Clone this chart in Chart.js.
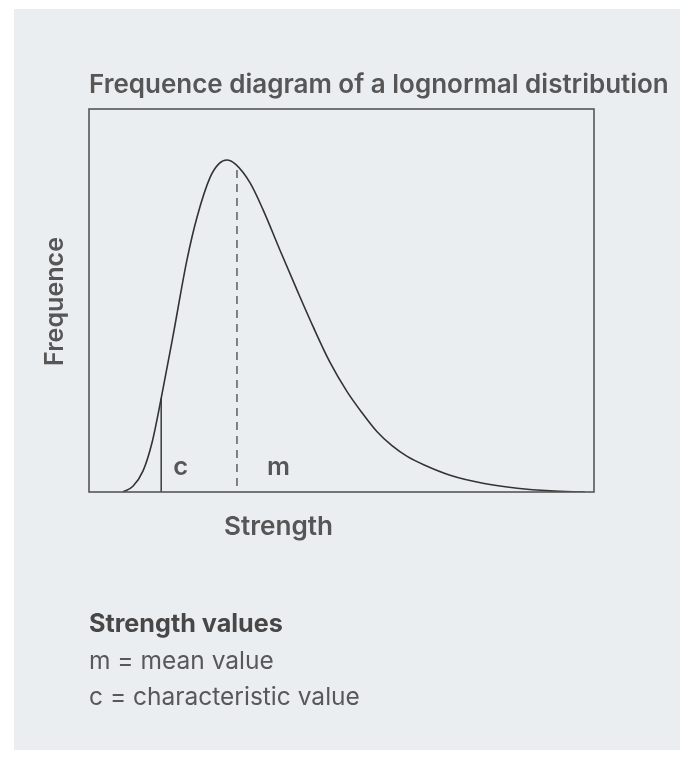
<!DOCTYPE html>
<html><head><meta charset="utf-8">
<script src="https://cdn.jsdelivr.net/npm/chart.js@4.4.1/dist/chart.umd.min.js"></script>
<style>
html,body{margin:0;padding:0;background:#fff;overflow:hidden;}
#panel{position:absolute;left:14px;top:9px;width:666px;height:741px;background:#ebeef1;}
#wrap{position:absolute;left:0;top:0;width:680px;height:759px;}
</style></head><body>
<div id="panel"></div>
<div id="wrap"><canvas id="c" width="680" height="759"></canvas></div>
<script>
const titleText = "Frequence diagram of a lognormal distribution";
const xAxisLabel = "Strength";
const yAxisLabel = "Frequence";
const notesHeading = "Strength values";
const notesLines = ["m = mean value", "c = characteristic value"];
const markerLabels = ["c", "m"];

// lognormal-shaped frequency curve (strength 0-100, frequence 0-100)
const curveX = [6.7, 8.7, 10.7, 12.5, 14.3, 16.6, 19.4, 21.4, 24.0, 25.8, 27.3, 29.0, 31.9, 34.5, 37.8, 41.2, 44.4, 47.7, 51.1, 54.0, 57.0, 60.0, 63.0, 66.5, 71.5, 78.0, 84.8, 91.3, 98.2];
const curveY = [0, 1.5, 5.5, 13.0, 24.5, 40.5, 60.6, 71.8, 82.2, 85.8, 86.7, 85.6, 80.7, 73.6, 63.2, 52.7, 43.1, 33.9, 26.2, 20.8, 15.8, 12.1, 9.3, 7.0, 4.4, 2.3, 1.0, 0.3, 0];
// characteristic value c and mean value m
const charX = [14.3, 14.3];
const charY = [0, 24.5];
const meanX = [29.3, 29.3];
const meanY = [84.1, 0];

const FAMILY = 'Inter, "Open Sans", sans-serif';
const mctx = document.createElement('canvas').getContext('2d');
function fitSize(text, weight, target) {
  mctx.font = weight + ' 100px ' + FAMILY;
  return 100 * target / mctx.measureText(text).width;
}
function pts(xs, ys) { return xs.map((x, i) => ({x: x, y: ys[i]})); }

const decor = {
  id: 'decor',
  afterDraw(chart) {
    const ctx = chart.ctx, a = chart.chartArea;
    const xs = chart.scales.x;
    ctx.save();
    // frame
    ctx.strokeStyle = '#555';
    ctx.lineWidth = 1.6;
    ctx.strokeRect(a.left, a.top, a.right - a.left, a.bottom - a.top);
    ctx.textBaseline = 'alphabetic';
    ctx.textAlign = 'left';
    // title
    ctx.fillStyle = '#565656';
    let s = fitSize(titleText, 600, 580);
    ctx.font = '600 ' + s + 'px ' + FAMILY;
    ctx.fillText(titleText, a.left, 93);
    // x label
    s = fitSize(xAxisLabel, 600, 109);
    ctx.font = '600 ' + s + 'px ' + FAMILY;
    ctx.fillText(xAxisLabel, 224, 535);
    // y label
    s = fitSize(yAxisLabel, 600, 129);
    ctx.font = '600 ' + s + 'px ' + FAMILY;
    ctx.save();
    ctx.translate(63, (a.top + a.bottom) / 2 + 1);
    ctx.rotate(-Math.PI / 2);
    ctx.textAlign = 'center';
    ctx.fillText(yAxisLabel, 0, 0);
    ctx.restore();
    // marker labels
    const ms = fitSize('m', 600, 23);
    ctx.font = '600 ' + ms + 'px ' + FAMILY;
    const base = a.bottom - 17;
    ctx.fillText(markerLabels[0], xs.getPixelForValue(charX[0]) + 12, base);
    ctx.fillText(markerLabels[1], xs.getPixelForValue(meanX[0]) + 30, base);
    // notes
    ctx.fillStyle = '#474747';
    s = fitSize(notesHeading, 700, 194);
    ctx.font = '700 ' + s + 'px ' + FAMILY;
    ctx.fillText(notesHeading, a.left, 632);
    ctx.fillStyle = '#585858';
    s = fitSize(notesLines[1], 400, 271);
    ctx.font = '400 ' + s + 'px ' + FAMILY;
    ctx.fillText(notesLines[0], a.left, 669);
    ctx.fillText(notesLines[1], a.left, 705);
    ctx.restore();
  }
};

new Chart(document.getElementById('c'), {
  type: 'scatter',
  data: {
    datasets: [
      {data: pts(curveX, curveY), showLine: true, borderColor: '#333', borderWidth: 1.6, pointRadius: 0, cubicInterpolationMode: 'monotone', fill: false},
      {data: pts(charX, charY), showLine: true, borderColor: '#444', borderWidth: 1.6, pointRadius: 0},
      {data: pts(meanX, meanY), showLine: true, borderColor: '#666', borderWidth: 1.6, borderDash: [8, 6], pointRadius: 0}
    ]
  },
  options: {
    responsive: false,
    animation: false,
    devicePixelRatio: 1,
    layout: {padding: {left: 89, top: 109, right: 86, bottom: 267}},
    scales: {
      x: {type: 'linear', min: 0, max: 100, display: false},
      y: {type: 'linear', min: 0, max: 100, display: false}
    },
    plugins: {legend: {display: false}, tooltip: {enabled: false}}
  },
  plugins: [decor]
});
</script>
</body></html>
